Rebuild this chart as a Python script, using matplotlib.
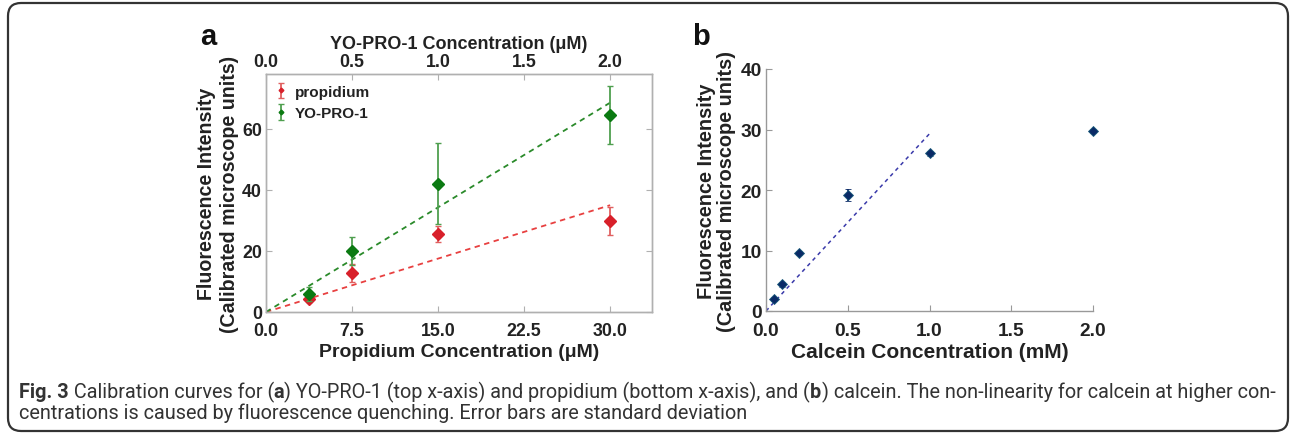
import matplotlib
matplotlib.use("Agg")
import matplotlib.pyplot as plt
from matplotlib.patches import FancyBboxPatch
from matplotlib.transforms import IdentityTransform
from matplotlib import font_manager

# ---- data ----
prop_x = [3.75, 7.5, 15.0, 30.0]
prop_y = [4.4, 12.8, 25.6, 29.9]
prop_err = [1.0, 3.0, 2.6, 4.6]
prop_fit_x = [0.0, 30.0]
prop_fit_y = [0.0, 35.0]

yopro_x = [0.25, 0.5, 1.0, 2.0]
yopro_y = [6.0, 20.0, 42.0, 64.5]
yopro_err = [2.3, 4.7, 13.3, 9.5]
yopro_fit_x = [0.0, 2.0]
yopro_fit_y = [0.0, 68.6]

calc_x = [0.05, 0.1, 0.2, 0.5, 1.0, 2.0]
calc_y = [2.0, 4.4, 9.6, 19.1, 26.1, 29.8]
calc_err = [0.3, 0.4, 0.4, 1.0, 0.4, 0.3]
calc_fit_x = [0.0, 1.0]
calc_fit_y = [0.0, 29.3]

prop_ticks = [0.0, 7.5, 15.0, 22.5, 30.0]
yopro_ticks = [0.0, 0.5, 1.0, 1.5, 2.0]
a_yticks = [0, 20, 40, 60]
calc_xticks = [0.0, 0.5, 1.0, 1.5, 2.0]
calc_yticks = [0, 10, 20, 30, 40]

plt.rcParams['font.family'] = ['Liberation Sans', 'DejaVu Sans']

W, H = 1293, 435
fig = plt.figure(figsize=(W / 100, H / 100), dpi=100)

RED = '#d8202a'
GREEN = '#0b7a12'
NAVY = '#0a2a66'
SPINE = '#b0b0b0'
TXT = '#222222'

# border (pixel coordinates, origin bottom-left)
fig.patches.append(FancyBboxPatch((8, 3), 1280, 428,
                                  boxstyle="round,pad=0,rounding_size=13",
                                  transform=IdentityTransform(), fill=False,
                                  edgecolor='#333333', linewidth=1.6))

# ---------- panel a ----------
ax = fig.add_axes([266 / W, (H - 313) / H, 386 / W, 238 / H])
xmax_a = 33.65
ax.set_xlim(0, xmax_a)
ax.set_ylim(0, 78)
ax.plot(prop_fit_x, prop_fit_y, ls=(0, (3, 2.5)), color='#e84040', lw=1.3)
ax.errorbar(prop_x, prop_y, yerr=prop_err, fmt='D', color=RED, ms=6,
            ecolor='#e06060', elinewidth=1.3, capsize=2, capthick=1, label='propidium',
            clip_on=False)
ax2 = ax.twiny()
ax2.set_xlim(0, xmax_a / 15.0)
ax2.plot(yopro_fit_x, yopro_fit_y, ls=(0, (3, 2.5)), color='#2a8a2a', lw=1.3)
ax2.errorbar(yopro_x, yopro_y, yerr=yopro_err, fmt='D', color=GREEN, ms=6,
             ecolor='#4f9f4f', elinewidth=1.3, capsize=2, capthick=1, label='YO-PRO-1',
             clip_on=False)

for a in (ax, ax2):
    for s in a.spines.values():
        s.set_color(SPINE)
        s.set_linewidth(1.0)
ax.set_xticks(prop_ticks)
ax.set_xticklabels([f"{t:.1f}" for t in prop_ticks])
ax.set_yticks(a_yticks)
ax.tick_params(axis='both', direction='in', length=4, color=SPINE, labelsize=12.8,
               labelcolor=TXT, right=True)
ax.tick_params(axis='x', pad=7)
ax.tick_params(axis='y', pad=3)
for lab in ax.get_xticklabels() + ax.get_yticklabels():
    lab.set_fontweight('bold')
ax2.set_xticks(yopro_ticks)
ax2.set_xticklabels([f"{t:.1f}" for t in yopro_ticks])
ax2.tick_params(axis='x', direction='in', length=4, color=SPINE, labelsize=12.8,
                labelcolor=TXT, pad=3)
for lab in ax2.get_xticklabels():
    lab.set_fontweight('bold')
ax.set_xlabel('Propidium Concentration (μM)', fontsize=14, fontweight='bold',
              color=TXT, labelpad=3)
ax2.set_xlabel('YO-PRO-1 Concentration (μM)', fontsize=13, fontweight='bold',
               color=TXT, labelpad=3.5)
ax.set_ylabel('Fluorescence Intensity\n(Calibrated microscope units)', fontsize=14.1,
              fontweight='bold', color=TXT, labelpad=2, linespacing=1.25)

h1, l1 = ax.get_legend_handles_labels()
h2, l2 = ax2.get_legend_handles_labels()
leg = ax2.legend(h1 + h2, l1 + l2, loc='upper left', frameon=False,
                 prop={'weight': 'bold', 'size': 11}, handlelength=0.6,
                 handletextpad=0.6, markerscale=0.4, borderaxespad=0.3,
                 labelspacing=0.5)
for t in leg.get_texts():
    t.set_color(TXT)

fig.text(200 / W, (H - 37) / H, 'a', fontsize=21, fontweight='bold', color='#111111',
         va='center')

# ---------- panel b ----------
bx = fig.add_axes([766 / W, (H - 312) / H, 327 / W, 242 / H])
bx.set_xlim(0, 2.0)
bx.set_ylim(0, 40)
bx.plot(calc_fit_x, calc_fit_y, ls=(0, (2.5, 2.5)), color='#3a3aaa', lw=1.1)
bx.errorbar(calc_x, calc_y, yerr=calc_err, fmt='D', color=NAVY, ms=5,
            mec='#1a5a7a', mew=0.6, ecolor=NAVY, elinewidth=1.2, capsize=2,
            capthick=1, clip_on=False)
for k in ('top', 'right'):
    bx.spines[k].set_visible(False)
for k in ('left', 'bottom'):
    bx.spines[k].set_color('#999999')
    bx.spines[k].set_linewidth(1.0)
bx.set_xticks(calc_xticks)
bx.set_xticklabels([f"{t:.1f}" for t in calc_xticks])
bx.set_yticks(calc_yticks)
bx.tick_params(axis='both', direction='in', length=4, color='#999999', labelsize=13.8,
               labelcolor=TXT)
bx.tick_params(axis='x', pad=8)
bx.tick_params(axis='y', pad=3)
for lab in bx.get_xticklabels() + bx.get_yticklabels():
    lab.set_fontweight('bold')
bx.set_xlabel('Calcein Concentration (mM)', fontsize=15, fontweight='bold',
              color=TXT, labelpad=2)
bx.set_ylabel('Fluorescence Intensity\n(Calibrated microscope units)', fontsize=14.3,
              fontweight='bold', color=TXT, labelpad=3, linespacing=1.1)
fig.text(692 / W, (H - 37) / H, 'b', fontsize=21, fontweight='bold', color='#111111',
         va='center')

# ---------- caption ----------
def has_font(name):
    try:
        font_manager.findfont(font_manager.FontProperties(family=name),
                              fallback_to_default=False)
        return True
    except Exception:
        return False


cap_main = None
for cand in ['Liberation Sans Narrow', 'Roboto', 'Liberation Sans']:
    if has_font(cand):
        cap_main = cand
        break
CAP_FAM = [cap_main, 'DejaVu Sans'] if cap_main else ['DejaVu Sans']
renderer = fig.canvas.get_renderer()

line1 = [("Fig. 3", 'bold'), (" Calibration curves for (", 'normal'),
         ("a", 'bold'),
         (") YO-PRO-1 (top x-axis) and propidium (bottom x-axis), and (", 'normal'),
         ("b", 'bold'),
         (") calcein. The non-linearity for calcein at higher con-", 'normal')]
line2 = [("centrations is caused by fluorescence quenching. Error bars are standard deviation",
          'normal')]


def seg_line(x0, y, segs, fs, draw=True):
    x = x0
    made = []
    for s, w in segs:
        t = fig.text(x / W, y / H, s, fontsize=fs, fontweight=w, family=CAP_FAM,
                     color='#333333', va='baseline', ha='left')
        bb = t.get_window_extent(renderer)
        x += bb.width
        made.append(t)
    if not draw:
        for t in made:
            t.remove()
    return x - x0


base_fs = 11.0
w1 = seg_line(19, H - 398, line1, base_fs, draw=False)
CAP_FS = base_fs * 1253.0 / w1
seg_line(19, H - 398, line1, CAP_FS)
seg_line(19, H - 419, line2, CAP_FS)

fig.savefig('out.png', dpi=100)
